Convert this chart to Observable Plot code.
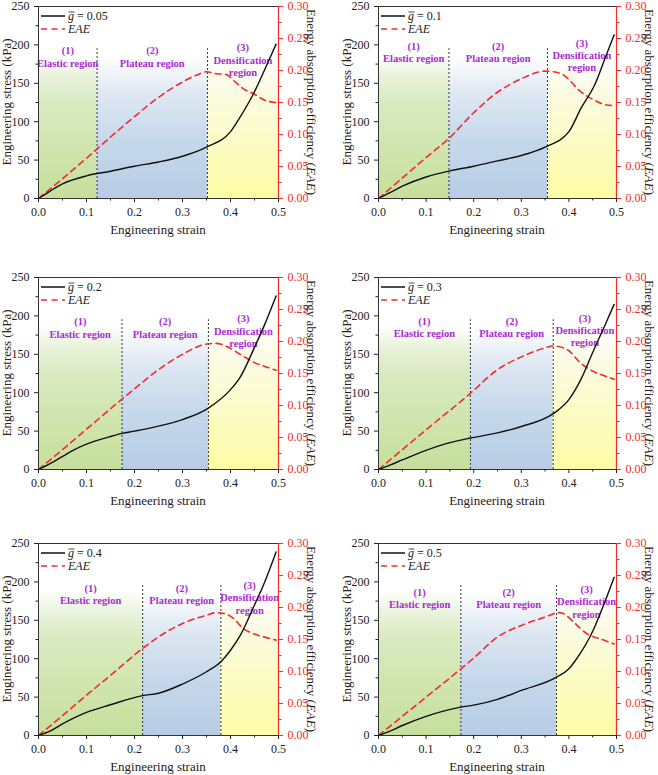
<!DOCTYPE html>
<html>
<head>
<meta charset="utf-8">
<script src="https://cdn.jsdelivr.net/npm/d3@7"></script>
<script src="https://cdn.jsdelivr.net/npm/@observablehq/plot@0.6"></script>
<style>
  body { margin: 0; background: #fff; }
  #fig { position: relative; width: 658px; height: 775px; overflow: hidden; background: #fff; }
  #fig .cell { position: absolute; }
  #fig svg, #fig svg text, #fig svg tspan { font-family: "Liberation Serif", "Times New Roman", "DejaVu Serif", serif !important; }
</style>
</head>
<body>
<!-- shared gradient fills for the three deformation regions -->
<svg width="0" height="0" style="position:absolute">
  <defs>
    <linearGradient id="gradElastic" x1="0" y1="0" x2="0" y2="1">
      <stop offset="0" stop-color="#ffffff"/>
      <stop offset="0.25" stop-color="#ffffff"/>
      <stop offset="0.36" stop-color="#eaf3dd"/>
      <stop offset="0.5" stop-color="#d9eac0"/>
      <stop offset="1" stop-color="#c6df9c"/>
    </linearGradient>
    <linearGradient id="gradPlateau" x1="0" y1="0" x2="0" y2="1">
      <stop offset="0" stop-color="#ffffff"/>
      <stop offset="0.26" stop-color="#ffffff"/>
      <stop offset="0.45" stop-color="#dfe8f3"/>
      <stop offset="0.7" stop-color="#c6d8eb"/>
      <stop offset="1" stop-color="#b7cde5"/>
    </linearGradient>
    <linearGradient id="gradDensification" x1="0" y1="0" x2="0" y2="1">
      <stop offset="0" stop-color="#ffffff"/>
      <stop offset="0.26" stop-color="#ffffff"/>
      <stop offset="0.45" stop-color="#fbfbe3"/>
      <stop offset="0.7" stop-color="#fcfcc6"/>
      <stop offset="1" stop-color="#fffca6"/>
    </linearGradient>
  </defs>
</svg>
<div id="fig"></div>
<script>
// Stress–strain curves and energy absorption efficiency for six gradient values ḡ

const gLabels = ["0.05", "0.1", "0.2", "0.3", "0.4", "0.5"];

// ḡ = 0.05
const strain005 = [0, 0.025, 0.05, 0.1, 0.15, 0.2, 0.25, 0.3, 0.35, 0.4, 0.42, 0.45, 0.47, 0.495];
const stress005 = [0, 10, 19, 29.5, 35.5, 42, 47.5, 55, 67, 87, 106, 139, 166, 201];
const eaeStrain005 = [0, 0.05, 0.1, 0.15, 0.2, 0.25, 0.3, 0.33, 0.35, 0.37, 0.39, 0.41, 0.43, 0.45, 0.47, 0.495];
const eae005 = [0, 0.031, 0.063, 0.096, 0.128, 0.158, 0.182, 0.193, 0.198, 0.195, 0.194, 0.182, 0.170, 0.163, 0.154, 0.150];
const bounds005 = [0.122, 0.352];

// ḡ = 0.1
const strain01 = [0, 0.025, 0.05, 0.1, 0.15, 0.2, 0.25, 0.3, 0.35, 0.4, 0.425, 0.455, 0.475, 0.495];
const stress01 = [0, 8, 16, 28, 36, 42, 49, 56, 67, 87, 117, 149, 181, 213];
const eaeStrain01 = [0, 0.05, 0.1, 0.148, 0.2, 0.25, 0.3, 0.35, 0.38, 0.4, 0.42, 0.45, 0.48, 0.495];
const eae01 = [0, 0.032, 0.064, 0.094, 0.134, 0.166, 0.187, 0.199, 0.196, 0.186, 0.170, 0.155, 0.146, 0.145];
const bounds01 = [0.148, 0.355];

// ḡ = 0.2
const strain02 = [0, 0.025, 0.05, 0.075, 0.1, 0.15, 0.174, 0.2, 0.25, 0.3, 0.354, 0.4, 0.42, 0.45, 0.47, 0.495];
const stress02 = [0, 8, 17, 26, 33, 43, 47, 50, 56.5, 65, 80, 104, 120, 159, 187, 226];
const eaeStrain02 = [0, 0.05, 0.1, 0.174, 0.2, 0.25, 0.3, 0.35, 0.37, 0.39, 0.42, 0.45, 0.48, 0.495];
const eae02 = [0, 0.031, 0.063, 0.110, 0.126, 0.156, 0.180, 0.196, 0.197, 0.193, 0.180, 0.167, 0.159, 0.155];
const bounds02 = [0.174, 0.354];

// ḡ = 0.3
const strain03 = [0, 0.025, 0.05, 0.1, 0.15, 0.193, 0.25, 0.3, 0.367, 0.4, 0.425, 0.4525, 0.473, 0.495];
const stress03 = [0, 6, 12.5, 25, 35, 41, 47.6, 56, 72.7, 91, 117, 156, 184, 215];
const eaeStrain03 = [0, 0.05, 0.1, 0.193, 0.25, 0.3, 0.35, 0.367, 0.397, 0.425, 0.452, 0.48, 0.495];
const eae03 = [0, 0.031, 0.062, 0.119, 0.156, 0.176, 0.190, 0.193, 0.187, 0.166, 0.153, 0.145, 0.141];
const bounds03 = [0.193, 0.367];

// ḡ = 0.4
const strain04 = [0, 0.025, 0.05, 0.1, 0.15, 0.217, 0.25, 0.3, 0.35, 0.38, 0.4, 0.42, 0.45, 0.47, 0.495];
const stress04 = [0, 6, 15, 30, 40, 52, 55, 67, 83, 96, 111, 130, 170, 198, 239];
const eaeStrain04 = [0, 0.05, 0.1, 0.15, 0.217, 0.25, 0.3, 0.35, 0.37, 0.39, 0.406, 0.427, 0.448, 0.48, 0.495];
const eae04 = [0, 0.031, 0.063, 0.094, 0.136, 0.154, 0.175, 0.188, 0.192, 0.190, 0.183, 0.167, 0.159, 0.152, 0.149];
const bounds04 = [0.217, 0.380];

// ḡ = 0.5
const strain05 = [0, 0.025, 0.05, 0.1, 0.173, 0.2, 0.25, 0.3, 0.374, 0.4, 0.414, 0.4525, 0.473, 0.495];
const stress05 = [0, 6, 13, 25, 37, 39.5, 47, 58.7, 76, 87, 98, 139, 170, 206];
const eaeStrain05 = [0, 0.05, 0.1, 0.173, 0.2, 0.25, 0.3, 0.35, 0.38, 0.39, 0.41, 0.44, 0.47, 0.495];
const eae05 = [0, 0.030, 0.060, 0.104, 0.121, 0.154, 0.172, 0.185, 0.192, 0.190, 0.177, 0.158, 0.150, 0.143];
const bounds05 = [0.173, 0.374];

// height (kPa) of the "(n)" region captions in each panel
const captionLevels = [192, 198, 192, 193, 191, 186];

// axis ticks
const xTicks = [0, 0.1, 0.2, 0.3, 0.4, 0.5];
const xMinor = [0.05, 0.15, 0.25, 0.35, 0.45];
const stressTicks = [0, 50, 100, 150, 200, 250];
const stressMinor = [25, 75, 125, 175, 225];
const eaeTicks = [0, 0.05, 0.10, 0.15, 0.20, 0.25, 0.30];
const eaeMinor = [0.025, 0.075, 0.125, 0.175, 0.225, 0.275];

const regionNumbers = ["(1)", "(2)", "(3)"];
const regionNames = ["Elastic region", "Plateau region", "Densification"];

const panels = [
  {g: gLabels[0], strain: strain005, stress: stress005, eStrain: eaeStrain005, eae: eae005, bounds: bounds005, level: captionLevels[0]},
  {g: gLabels[1], strain: strain01, stress: stress01, eStrain: eaeStrain01, eae: eae01, bounds: bounds01, level: captionLevels[1]},
  {g: gLabels[2], strain: strain02, stress: stress02, eStrain: eaeStrain02, eae: eae02, bounds: bounds02, level: captionLevels[2]},
  {g: gLabels[3], strain: strain03, stress: stress03, eStrain: eaeStrain03, eae: eae03, bounds: bounds03, level: captionLevels[3]},
  {g: gLabels[4], strain: strain04, stress: stress04, eStrain: eaeStrain04, eae: eae04, bounds: bounds04, level: captionLevels[4]},
  {g: gLabels[5], strain: strain05, stress: stress05, eStrain: eaeStrain05, eae: eae05, bounds: bounds05, level: captionLevels[5]}
];

const SERIF = "'Liberation Serif', 'Times New Roman', 'DejaVu Serif', serif";
const RED = "#f02c2c";
const PURPLE = "#ab2bd2";
const INK = "#222";
const STRESS_MAX = 250, EAE_MAX = 0.3;
const k = STRESS_MAX / EAE_MAX; // EAE → stress-axis scaling for the right-hand axis

const cellW = 329, plotH = 192, mt = 14, mb = 46;
const rowTops = [6, 277, 543];
const fig = document.getElementById("fig");

panels.forEach((p, i) => {
  const col = i % 2, row = Math.floor(i / 2);
  const ml = col === 0 ? 38 : 49;
  const mr = col === 0 ? 51 : 42;
  const pw = cellW - ml - mr;

  const stressData = p.strain.map((x, j) => ({x, y: p.stress[j]}));
  const eaeData = p.eStrain.map((x, j) => ({x, y: p.eae[j]}));
  const edges = [0, p.bounds[0], p.bounds[1], 0.5];
  const regions = [0, 1, 2].map(j => ({x1: edges[j], x2: edges[j + 1], xc: (edges[j] + edges[j + 1]) / 2}));

  const captions = [
    ...regions.map((r, j) => ({x: r.xc, y: p.level + (j === 2 ? 4 : 0), t: regionNumbers[j]})),
    ...regions.map((r, j) => ({x: r.xc, y: p.level - 16 + (j === 2 ? 4 : 0), t: regionNames[j]})),
    {x: regions[2].xc, y: p.level - 28, t: "region"}
  ];

  const svg = Plot.plot({
    width: cellW,
    height: mt + plotH + mb,
    marginLeft: ml,
    marginRight: mr,
    marginTop: mt,
    marginBottom: mb,
    style: {fontFamily: SERIF, fontSize: "12px", background: "transparent", overflow: "visible", color: INK},
    x: {domain: [0, 0.5]},
    y: {domain: [0, STRESS_MAX]},
    marks: [
      Plot.rect([regions[0]], {x1: "x1", x2: "x2", y1: 0, y2: STRESS_MAX, fill: "url(#gradElastic)"}),
      Plot.rect([regions[1]], {x1: "x1", x2: "x2", y1: 0, y2: STRESS_MAX, fill: "url(#gradPlateau)"}),
      Plot.rect([regions[2]], {x1: "x1", x2: "x2", y1: 0, y2: STRESS_MAX, fill: "url(#gradDensification)"}),
      Plot.ruleX(p.bounds, {y1: 0, y2: 195, stroke: "#333", strokeWidth: 1, strokeDasharray: "2,2"}),
      Plot.text(captions, {x: "x", y: "y", text: "t", fill: PURPLE, fontWeight: "bold", fontSize: 10.5}),
      Plot.line(eaeData, {x: "x", y: d => d.y * k, stroke: RED, strokeWidth: 1.6, strokeDasharray: "6,4.5", curve: "monotone-x"}),
      Plot.line(stressData, {x: "x", y: "y", stroke: "#111", strokeWidth: 1.4, curve: "monotone-x"}),
      Plot.frame({stroke: "#333"}),
      Plot.ruleX([0.5], {stroke: RED, strokeWidth: 1.2}),
      Plot.axisX(xTicks, {tickSize: 4, tickFormat: d3.format(".1f"), label: null, color: INK}),
      Plot.axisX(xMinor, {tickSize: 2.5, tickFormat: () => "", label: null, color: INK}),
      Plot.axisY(stressTicks, {tickSize: 4, label: null, color: INK}),
      Plot.axisY(stressMinor, {tickSize: 2.5, tickFormat: () => "", label: null, color: INK}),
      Plot.axisY(eaeTicks, {anchor: "right", y: d => d * k, tickSize: 4, tickFormat: d3.format(".2f"), label: null, color: RED}),
      Plot.axisY(eaeMinor, {anchor: "right", y: d => d * k, tickSize: 2.5, tickFormat: () => "", label: null, color: RED})
    ]
  });

  const s = d3.select(svg).attr("font-family", SERIF);

  // axis titles
  s.append("text")
    .attr("x", ml + pw / 2).attr("y", mt + plotH + 31).attr("dy", "0.35em")
    .attr("text-anchor", "middle").attr("font-size", 13).attr("fill", INK)
    .text("Engineering strain");
  s.append("text")
    .attr("transform", `translate(${ml - 32},${mt + plotH / 2}) rotate(-90)`)
    .attr("dy", "0.35em").attr("text-anchor", "middle").attr("font-size", 13).attr("fill", INK)
    .text("Engineering stress (kPa)");
  const rt = s.append("text")
    .attr("transform", `translate(${ml + pw + 34},${mt + plotH / 2}) rotate(90)`)
    .attr("dy", "0.35em").attr("text-anchor", "middle").attr("font-size", 13).attr("fill", INK);
  rt.append("tspan").text("Energy absorption efficiency (");
  rt.append("tspan").attr("font-style", "italic").text("EAE");
  rt.append("tspan").text(")");

  // legend
  s.append("line")
    .attr("x1", ml + 3).attr("x2", ml + 27).attr("y1", mt + 10).attr("y2", mt + 10)
    .attr("stroke", "#111").attr("stroke-width", 1.5);
  const lg = s.append("text")
    .attr("x", ml + 30).attr("y", mt + 10).attr("dy", "0.35em")
    .attr("text-anchor", "start").attr("font-size", 12).attr("fill", INK);
  lg.append("tspan").attr("font-style", "italic").text("g");
  lg.append("tspan").text(" = " + p.g);
  // bar over the g
  s.append("line")
    .attr("x1", ml + 30.5).attr("x2", ml + 36.5).attr("y1", mt + 6).attr("y2", mt + 6)
    .attr("stroke", INK).attr("stroke-width", 0.8);
  s.append("line")
    .attr("x1", ml + 3).attr("x2", ml + 27).attr("y1", mt + 23).attr("y2", mt + 23)
    .attr("stroke", RED).attr("stroke-width", 1.6).attr("stroke-dasharray", "6,4.5");
  s.append("text")
    .attr("x", ml + 30).attr("y", mt + 23).attr("dy", "0.35em")
    .attr("text-anchor", "start").attr("font-size", 12).attr("font-style", "italic").attr("fill", INK)
    .text("EAE");

  const cell = document.createElement("div");
  cell.className = "cell";
  cell.style.left = (col * cellW) + "px";
  cell.style.top = (rowTops[row] - mt) + "px";
  cell.appendChild(svg);
  fig.appendChild(cell);
});
</script>
</body>
</html>
